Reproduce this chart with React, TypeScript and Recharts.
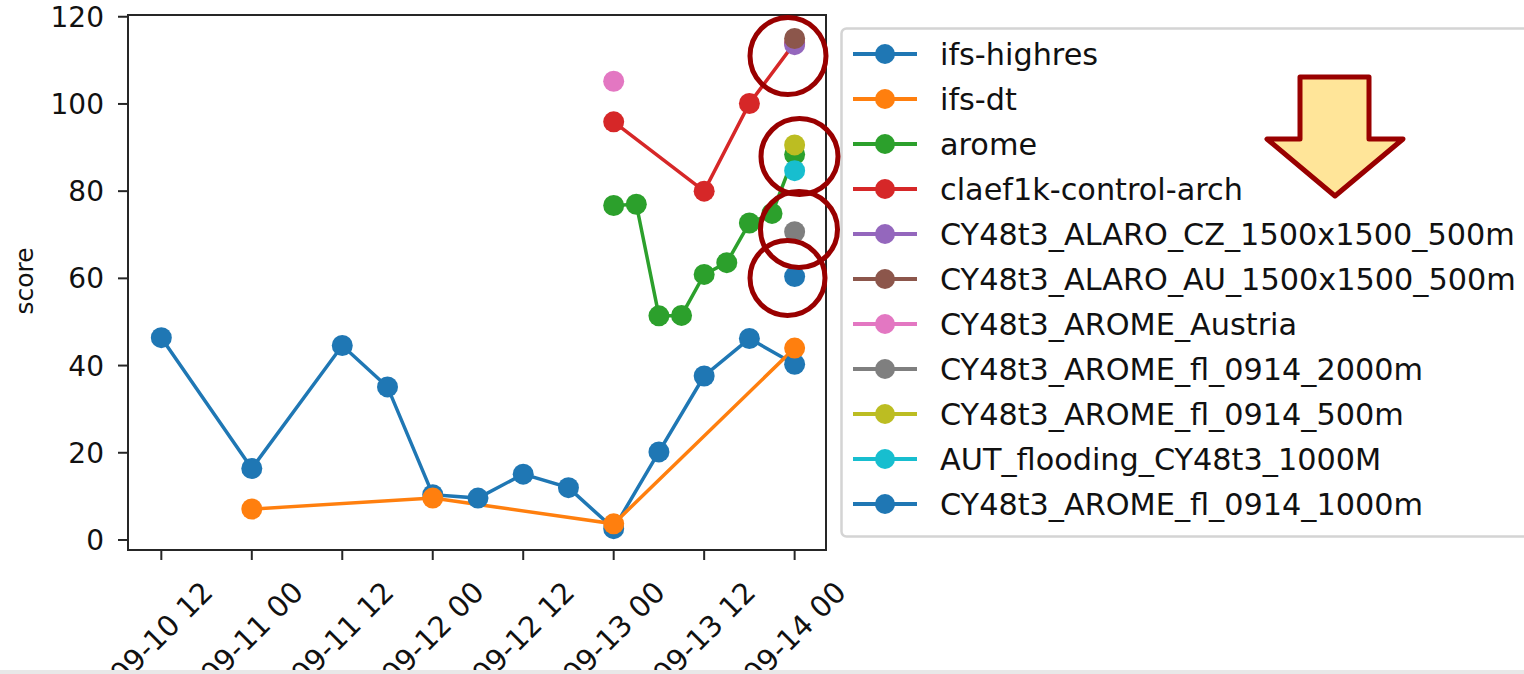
import React from 'react';
import { LineChart, Line, XAxis, YAxis, Legend, ReferenceArea } from 'recharts';

// ---- data (hours since 09-10 12 UTC) ----
const tickHours = [0, 12, 24, 36, 48, 60, 72, 84];
const tickLabels = ['09-10 12', '09-11 00', '09-11 12', '09-12 00', '09-12 12', '09-13 00', '09-13 12', '09-14 00'];
const yTicks = [0, 20, 40, 60, 80, 100, 120];

const hoursIfsHighres = [0, 12, 24, 30, 36, 42, 48, 54, 60, 66, 72, 78, 84];
const ifsHighres = [46.4, 16.4, 44.6, 35.1, 10.4, 9.6, 15.1, 12.0, 2.6, 20.2, 37.6, 46.2, 40.3];

const hoursIfsDt = [12, 36, 60, 84];
const ifsDt = [7.1, 9.6, 3.7, 44.0];

const hoursArome = [60, 63, 66, 69, 72, 75, 78, 81, 84];
const arome = [76.7, 77.0, 51.4, 51.5, 60.9, 63.6, 72.7, 74.9, 88.4];

const hoursClaef = [60, 72, 78, 84];
const claef = [95.9, 80.0, 100.1, 114.0];

const hoursAlaroCz = [84];
const alaroCz = [113.6];
const hoursAlaroAu = [84];
const alaroAu = [115.0];
const hoursAromeAustria = [60];
const aromeAustria = [105.2];
const hoursFl2000 = [84];
const fl2000 = [70.7];
const hoursFl500 = [84];
const fl500 = [90.6];
const hoursAutFlooding = [84];
const autFlooding = [84.7];
const hoursFl1000 = [84];
const fl1000 = [60.4];

const seriesNames = [
  'ifs-highres',
  'ifs-dt',
  'arome',
  'claef1k-control-arch',
  'CY48t3_ALARO_CZ_1500x1500_500m',
  'CY48t3_ALARO_AU_1500x1500_500m',
  'CY48t3_AROME_Austria',
  'CY48t3_AROME_fl_0914_2000m',
  'CY48t3_AROME_fl_0914_500m',
  'AUT_flooding_CY48t3_1000M',
  'CY48t3_AROME_fl_0914_1000m',
];
const seriesColors = [
  '#1f77b4', '#ff7f0e', '#2ca02c', '#d62728', '#9467bd', '#8c564b',
  '#e377c2', '#7f7f7f', '#bcbd22', '#17becf', '#1f77b4',
];
const seriesHours = [
  hoursIfsHighres, hoursIfsDt, hoursArome, hoursClaef, hoursAlaroCz, hoursAlaroAu,
  hoursAromeAustria, hoursFl2000, hoursFl500, hoursAutFlooding, hoursFl1000,
];
const seriesValues = [
  ifsHighres, ifsDt, arome, claef, alaroCz, alaroAu,
  aromeAustria, fl2000, fl500, autFlooding, fl1000,
];

const series = seriesNames.map((name, i) => ({
  name,
  color: seriesColors[i],
  data: seriesHours[i].map((h, j) => ({ h, v: seriesValues[i][j] })),
}));

const X_DOMAIN: [number, number] = [-4.42, 88.16];
const Y_DOMAIN: [number, number] = [-2.3, 120.4];

const FONT = '"DejaVu Sans", sans-serif';
const AXIS = '#262626';

const XTick = (props: any) => {
  const { x, y, payload } = props;
  const idx = tickHours.indexOf(payload.value);
  const cy = y + 71;
  return (
    <g>
      <text
        x={x}
        y={cy}
        transform={`rotate(-45 ${x} ${cy})`}
        textAnchor="middle"
        dominantBaseline="central"
        fontSize={29}
        fontFamily={FONT}
        fill="#111"
      >
        {idx >= 0 ? tickLabels[idx] : ''}
      </text>
    </g>
  );
};

const LegendContent = () => (
  <svg width={690} height={512} style={{ display: 'block', overflow: 'visible' }}>
    <rect x={1.5} y={1.5} width={720} height={508} rx={5} ry={5} fill="#fff" stroke="#d4d4d4" strokeWidth={2.5} />
    {series.map((s, i) => {
      const cy = 27 + i * 45;
      return (
        <g key={s.name}>
          <line x1={13} x2={77} y1={cy} y2={cy} stroke={s.color} strokeWidth={4} />
          <circle cx={45} cy={cy} r={10} fill={s.color} />
          <text x={100} y={cy + 10.5} fontSize={30.3} fontFamily={FONT} fill="#111">
            {s.name}
          </text>
        </g>
      );
    })}
  </svg>
);

export default function App() {
  return (
    <div style={{ position: 'absolute', left: 0, top: 0, width: 1524, height: 674, background: '#fff', overflow: 'hidden' }}>
      <LineChart width={1524} height={674} margin={{ top: 15, right: 698, left: 0, bottom: 0 }}>
        <XAxis
          dataKey="h"
          type="number"
          domain={X_DOMAIN}
          allowDataOverflow
          ticks={tickHours}
          interval={0}
          height={124}
          tickSize={10}
          tickLine={{ stroke: AXIS, strokeWidth: 2 }}
          axisLine={{ stroke: AXIS, strokeWidth: 2 }}
          tick={<XTick />}
        />
        <YAxis
          type="number"
          domain={Y_DOMAIN}
          allowDataOverflow
          ticks={yTicks}
          interval={0}
          width={128}
          tickSize={10}
          tickMargin={14}
          tickLine={{ stroke: AXIS, strokeWidth: 2 }}
          axisLine={{ stroke: AXIS, strokeWidth: 2 }}
          tick={{ fontSize: 28, fontFamily: FONT, fill: '#111' }}
          label={(p: any) => (
            <text
              x={24}
              y={281}
              transform="rotate(-90 24 281)"
              textAnchor="middle"
              dominantBaseline="central"
              fontSize={25}
              fontFamily={FONT}
              fill="#111"
            >
              score
            </text>
          )}
        />
        <ReferenceArea
          x1={X_DOMAIN[0]}
          x2={X_DOMAIN[1]}
          y1={Y_DOMAIN[0]}
          y2={Y_DOMAIN[1]}
          fill="none"
          fillOpacity={0}
          stroke={AXIS}
          strokeWidth={2}
          ifOverflow="visible"
        />
        {series.map((s) => (
          <Line
            key={s.name}
            name={s.name}
            data={s.data}
            dataKey="v"
            type="linear"
            stroke={s.color}
            strokeWidth={3.5}
            dot={{ r: 10.5, fill: s.color, stroke: s.color, strokeWidth: 0 }}
            activeDot={false}
            isAnimationActive={false}
            legendType="circle"
          />
        ))}
        <Legend
          layout="vertical"
          align="center"
          verticalAlign="middle"
          content={<LegendContent />}
          wrapperStyle={{ position: 'absolute', left: 840, top: 27, width: 690, height: 512 }}
        />
      </LineChart>
      <svg
        width={1524}
        height={674}
        style={{ position: 'absolute', left: 0, top: 0, pointerEvents: 'none' }}
      >
        <g fill="none" stroke="#990000" strokeWidth={5}>
          <ellipse cx={788} cy={56} rx={38} ry={38.5} />
          <ellipse cx={799.5} cy={156.5} rx={38.5} ry={38} />
          <ellipse cx={799} cy={229.5} rx={38.5} ry={38} />
          <ellipse cx={787.5} cy={278} rx={37.5} ry={37.5} />
        </g>
        <polygon
          points="1300,77 1369,77 1369,139 1403,139 1335,196 1267,139 1300,139"
          fill="#FFE599"
          stroke="#990000"
          strokeWidth={5}
          strokeLinejoin="round"
        />
        <rect x={0} y={670} width={1524} height={4} fill="#e8e8e8" />
      </svg>
    </div>
  );
}
